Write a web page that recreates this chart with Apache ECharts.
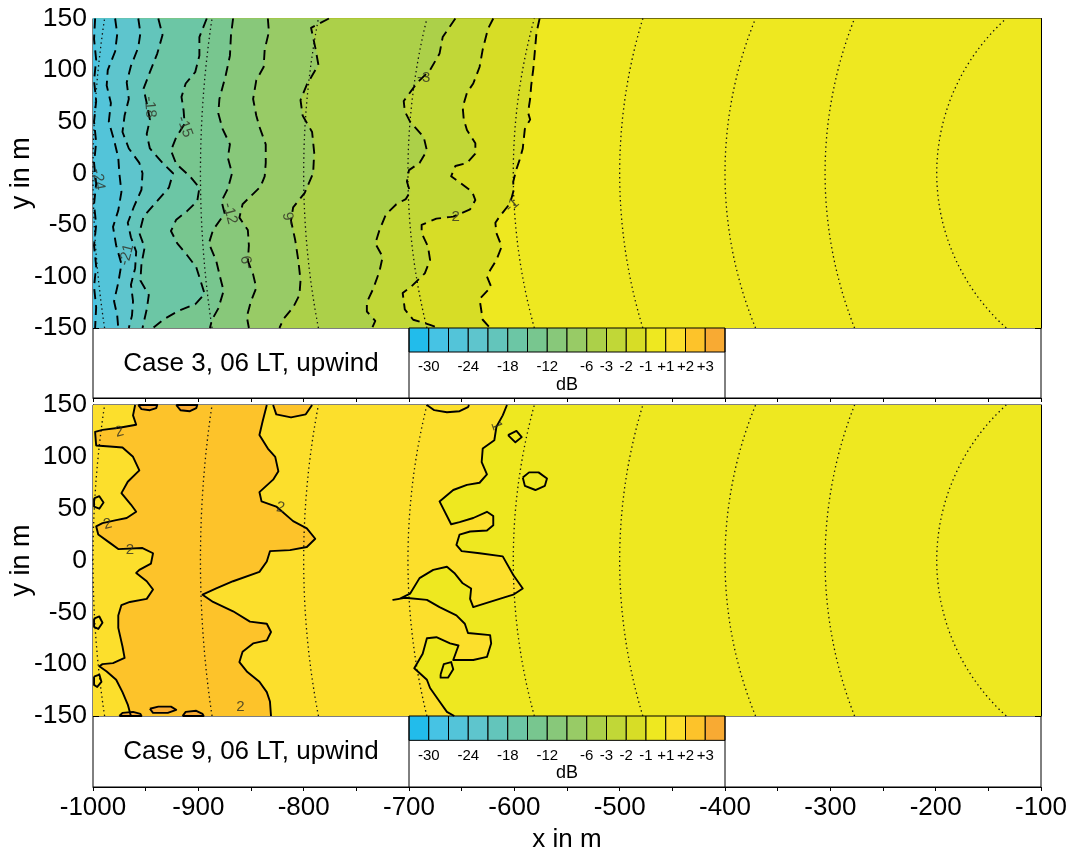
<!DOCTYPE html>
<html>
<head>
<meta charset="utf-8">
<script src="https://cdn.jsdelivr.net/npm/echarts@6/dist/echarts.min.js"></script>
<style>
  html, body { margin: 0; padding: 0; background: #fff; }
  #chart { width: 1068px; height: 854px; }
</style>
</head>
<body>
<div id="chart"></div>
<script>
// ---------- axes ----------
const X_MIN = -1000, X_MAX = -100, Y_MIN = -150, Y_MAX = 150;

// ---------- colour scale (dB) ----------
const bandColors = ['#22bceb', '#46c3e4', '#53c4d9', '#5ec5cd', '#63c5bb', '#6cc6a5', '#78c68f',
                    '#88c87a', '#98cb66', '#acd049', '#c1d737', '#d7dd26', '#eee820', '#fcdf2c',
                    '#fdc32a', '#f8aa33'];
const levelLabels = ['-30', '-24', '-18', '-12', '-6', '-3', '-2', '-1', '+1', '+2', '+3'];
const levelBoundary = [1, 3, 5, 7, 9, 10, 11, 12, 13, 14, 15];

// ---------- Case 3 contours (x, y in m), top to bottom ----------
const case3_m27 = [[-998,150],[-999,130],[-997,110],[-999,90],[-997,70],[-999,50],[-997,30],[-999,10],[-997,-10],[-999,-30],[-997,-50],[-999,-70],[-997,-90],[-999,-110],[-997,-130],[-998,-150]];
const case3_m24 = [[-979,150],[-977,135],[-979,118],[-986,100],[-987,85],[-983,68],[-985,50],[-980,32],[-976,15],[-975,0],[-973,-18],[-976,-36],[-981,-52],[-978,-70],[-973,-88],[-976,-106],[-980,-124],[-977,-138],[-976,-150]];
const case3_m21 = [[-957,150],[-955,136],[-957,122],[-964,104],[-968,88],[-966,72],[-970,56],[-972,40],[-966,24],[-956,10],[-953,0],[-954,-16],[-961,-32],[-967,-48],[-964,-62],[-959,-76],[-960,-92],[-964,-108],[-962,-124],[-963,-138],[-966,-150]];
const case3_m18 = [[-938,150],[-934,134],[-939,116],[-946,98],[-952,82],[-949,68],[-946,52],[-949,38],[-946,24],[-934,10],[-924,0],[-928,-14],[-940,-28],[-952,-42],[-956,-58],[-951,-72],[-954,-88],[-955,-104],[-947,-118],[-949,-132],[-953,-150]];
const case3_m15 = [[-892,150],[-899,132],[-899,114],[-903,98],[-912,87],[-916,74],[-914,61],[-913,48],[-921,35],[-926,22],[-921,9],[-908,-3],[-899,-14],[-901,-27],[-911,-37],[-921,-45],[-926,-56],[-920,-68],[-911,-79],[-902,-91],[-898,-104],[-894,-117],[-903,-127],[-918,-133],[-932,-141],[-943,-150]];
const case3_m12 = [[-867,150],[-869,134],[-870,114],[-874,95],[-880,72],[-881,58],[-877,43],[-870,28],[-872,15],[-868,0],[-872,-15],[-878,-27],[-875,-39],[-886,-55],[-890,-68],[-883,-85],[-879,-102],[-876,-114],[-881,-131],[-887,-142],[-889,-150]];
const case3_m9  = [[-834,150],[-833,137],[-837,120],[-838,103],[-845,90],[-848,72],[-845,56],[-842,45],[-836,28],[-836,10],[-837,-3],[-841,-13],[-850,-22],[-858,-30],[-861,-43],[-853,-55],[-852,-70],[-853,-85],[-848,-98],[-845,-111],[-850,-124],[-854,-139],[-852,-150]];
const case3_m6  = [[-776,150],[-793,141],[-789,122],[-786,105],[-797,86],[-803,71],[-801,56],[-792,40],[-790,20],[-791,0],[-799,-19],[-810,-33],[-812,-46],[-808,-65],[-805,-85],[-803,-104],[-804,-118],[-810,-130],[-819,-141],[-823,-150]];
const case3_m3  = [[-656,150],[-668,132],[-671,116],[-680,100],[-692,88],[-705,70],[-704,60],[-699,50],[-686,35],[-683,22],[-690,10],[-700,3],[-702,-8],[-699,-18],[-703,-25],[-712,-30],[-722,-40],[-728,-55],[-732,-68],[-725,-81],[-728,-95],[-734,-112],[-740,-125],[-740,-134],[-732,-143],[-735,-150]];
const case3_m2  = [[-620,150],[-625,140],[-630,120],[-633,103],[-639,87],[-645,78],[-649,64],[-648,52],[-645,42],[-637,29],[-637,19],[-645,10],[-656,7],[-660,-3],[-653,-8],[-640,-18],[-637,-26],[-642,-35],[-658,-42],[-674,-44],[-688,-50],[-688,-58],[-682,-71],[-680,-84],[-685,-97],[-698,-110],[-706,-116],[-704,-132],[-696,-142],[-680,-147],[-672,-150]];
const case3_m1  = [[-576,150],[-579,136],[-582,101],[-584,85],[-585,72],[-587,59],[-585,52],[-590,43],[-592,24],[-595,13],[-598,4],[-601,-8],[-601,-18],[-604,-29],[-614,-42],[-618,-48],[-617,-58],[-612,-71],[-617,-84],[-623,-94],[-626,-100],[-622,-110],[-633,-122],[-630,-142],[-623,-150]];
// contour label: text, x, y, rotation (deg)
const case3_labels = [['-24',-995,-6,-80],['-21',-968,-79,75],['-18',-946,64,-85],['-15',-913,45,-70],
                      ['-12',-870,-39,-75],['-9',-853,-86,100],['-6',-813,-44,100],['-3',-686,92,0],
                      ['-2',-658,-42,0],['-1',-602,-31,40]];

// ---------- Case 9 contours ----------
const case9_p1 = [[-607,150],[-611,140],[-617,129],[-619,116],[-630,108],[-631,95],[-626,83],[-633,75],[-645,73],[-658,68],[-671,57],[-660,35],[-652,37],[-639,41],[-626,47],[-620,43],[-620,34],[-626,29],[-642,28],[-652,25],[-655,15],[-650,9],[-633,7],[-611,4],[-601,-14],[-592,-27],[-601,-33],[-614,-37],[-633,-43],[-639,-45],[-642,-37],[-641,-27],[-649,-22],[-657,-12],[-664,-6],[-677,-9],[-690,-17],[-699,-32],[-709,-37],[-715,-38],[-704,-36],[-683,-38],[-671,-45],[-655,-53],[-647,-61],[-644,-70],[-623,-72],[-622,-80],[-626,-93],[-639,-96],[-658,-96],[-653,-82],[-661,-80],[-674,-74],[-683,-75],[-687,-90],[-695,-104],[-683,-115],[-680,-123],[-671,-136],[-664,-146],[-657,-150]];
const case9_p2r = [[-835,150],[-839,134],[-842,121],[-834,108],[-827,100],[-824,86],[-829,78],[-842,66],[-840,57],[-826,52],[-810,38],[-797,31],[-789,21],[-797,13],[-813,10],[-832,9],[-835,-1],[-842,-11],[-867,-20],[-883,-27],[-896,-33],[-886,-40],[-867,-49],[-851,-59],[-835,-61],[-831,-69],[-835,-77],[-848,-80],[-858,-88],[-861,-98],[-854,-107],[-842,-117],[-835,-127],[-832,-136],[-831,-150]];
const case9_p2l = [[-960,150],[-962,140],[-959,131],[-975,128],[-991,126],[-998,124],[-997,111],[-984,110],[-972,109],[-962,100],[-956,87],[-967,76],[-973,65],[-964,54],[-959,47],[-968,41],[-978,39],[-991,36],[-997,33],[-995,25],[-984,17],[-976,11],[-953,12],[-943,7],[-945,-3],[-956,-9],[-959,-12],[-949,-20],[-943,-28],[-949,-37],[-965,-40],[-973,-43],[-976,-53],[-976,-65],[-972,-83],[-970,-94],[-981,-99],[-991,-100],[-994,-102],[-987,-107],[-978,-115],[-972,-127],[-967,-139],[-964,-150]];
// closed patches above +3 dB and above +2 dB
const case9_p3a = [[-946,-143],[-938,-141],[-926,-141],[-921,-144],[-929,-147],[-943,-147]];
const case9_p3b = [[-975,-150],[-972,-147],[-962,-146],[-955,-148],[-954,-150]];
const case9_p3c = [[-915,-150],[-912,-146],[-902,-145],[-896,-148],[-895,-150]];
const case9_p3d = [[-957,150],[-954,146],[-946,145],[-940,147],[-939,150]];
const case9_p3e = [[-921,150],[-917,145],[-908,144],[-902,147],[-901,150]];
const case9_p2a = [[-829,150],[-826,141],[-812,138],[-798,141],[-792,150]];
// small closed +1/+2 loops
const case9_loop1 = [[-606,121],[-598,125],[-593,119],[-599,114],[-606,121]];
const case9_loop2 = [[-592,80],[-586,85],[-577,85],[-569,79],[-571,72],[-580,68],[-590,72],[-592,80]];
const case9_loop3 = [[-670,-110],[-667,-100],[-660,-98],[-658,-105],[-663,-113],[-670,-113],[-670,-110]];
const case9_loop4 = [[-683,150],[-676,145],[-664,143],[-652,144],[-644,148],[-643,150]];
const case9_loop5 = [[-999,60],[-994,62],[-990,56],[-994,50],[-999,52]];
const case9_loop6 = [[-999,-56],[-994,-54],[-991,-60],[-995,-66],[-999,-64]];
const case9_loop7 = [[-999,-112],[-994,-110],[-992,-117],[-996,-122],[-999,-120]];
const case9_labels = [['2',-975,124,15],['2',-986,35,15],['2',-965,10,0],['2',-822,51,-10],
                      ['2',-860,-141,0],['1',-617,130,-70]];

// ---------- reference arcs: x at y = 0 and x at |y| = 150 ----------
const arcVertexX = [-1000, -898, -800, -701, -601, -500, -400, -305, -199];
const arcEdgeX   = [-989, -887, -786, -683, -581, -478, -371, -277, -133];

// ---------- building blocks ----------
function fillLayers(baseBand, lines) {
  // painted right to left: each layer covers everything left of its contour
  const layers = [{ pts: [[X_MIN, Y_MAX], [X_MAX, Y_MAX], [X_MAX, Y_MIN], [X_MIN, Y_MIN]], color: bandColors[baseBand] }];
  lines.forEach(l => {
    const pts = l.closed ? l.pts : l.pts.concat([[X_MIN, Y_MIN], [X_MIN, Y_MAX]]);
    layers.push({ pts: pts, color: bandColors[l.band] });
  });
  return layers;
}

function arcPoints(v, e) {
  const d = e - v;
  const r = (d * d + 150 * 150) / (2 * d);
  const c = v + r;
  const pts = [];
  for (let y = Y_MIN; y <= Y_MAX; y += 5) pts.push([c - Math.sqrt(r * r - y * y), y]);
  return pts;
}

const FONT = '"Liberation Sans", Arial, Helvetica, sans-serif';

const case3Layers = fillLayers(12, [
  { pts: case3_m1, band: 11 }, { pts: case3_m2, band: 10 }, { pts: case3_m3, band: 9 },
  { pts: case3_m6, band: 8 }, { pts: case3_m9, band: 7 }, { pts: case3_m12, band: 6 },
  { pts: case3_m15, band: 5 }, { pts: case3_m18, band: 4 }, { pts: case3_m21, band: 3 },
  { pts: case3_m24, band: 2 }, { pts: case3_m27, band: 1 }
]);
const case9Layers = fillLayers(12, [
  { pts: case9_p1, band: 13 }, { pts: case9_p2r, band: 14 }, { pts: case9_p2l, band: 13 },
  { pts: case9_p2a, band: 14, closed: true },
  { pts: case9_p3a, band: 15, closed: true }, { pts: case9_p3b, band: 15, closed: true },
  { pts: case9_p3c, band: 15, closed: true }, { pts: case9_p3d, band: 15, closed: true },
  { pts: case9_p3e, band: 15, closed: true }
]);

const case3Lines = [case3_m27, case3_m24, case3_m21, case3_m18, case3_m15, case3_m12, case3_m9, case3_m6, case3_m3, case3_m2, case3_m1];
const case9Lines = [case9_p1, case9_p2r, case9_p2l, case9_p2a, case9_p3a, case9_p3b, case9_p3c, case9_p3d, case9_p3e,
                    case9_loop1, case9_loop2, case9_loop3, case9_loop4, case9_loop5, case9_loop6, case9_loop7];

function fillSeries(layers, axis) {
  return {
    type: 'custom', xAxisIndex: axis.x, yAxisIndex: axis.y, silent: true, z: 1, clip: true,
    data: layers.map(l => l.pts[0]),
    encode: { x: 0, y: 1 },
    renderItem: (params, api) => {
      const l = layers[params.dataIndex];
      return { type: 'polygon', shape: { points: l.pts.map(p => api.coord(p)) },
               style: { fill: l.color, stroke: l.color, lineWidth: 0.6 } };
    }
  };
}

function lineSeries(pts, axis, dashed, closed) {
  const data = closed ? pts.concat([pts[0]]) : pts;
  return {
    type: 'line', xAxisIndex: axis.x, yAxisIndex: axis.y, data: data, symbol: 'none', silent: true, z: 3,
    lineStyle: { color: '#000', width: 1.9, type: dashed ? [10, 6] : 'solid', cap: 'butt', join: 'round' }
  };
}

function arcSeries(axis) {
  return arcVertexX.map((v, i) => ({
    type: 'line', xAxisIndex: axis.x, yAxisIndex: axis.y, data: arcPoints(v, arcEdgeX[i]), symbol: 'none',
    silent: true, z: 2, lineStyle: { color: '#111', width: 1.3, type: [1.4, 3.2] }
  }));
}

function labelSeries(labels, axis) {
  return {
    type: 'scatter', xAxisIndex: axis.x, yAxisIndex: axis.y, silent: true, z: 4, symbolSize: 1,
    itemStyle: { color: 'rgba(0,0,0,0)' },
    data: labels.map(l => ({ value: [l[1], l[2]], label: { formatter: l[0], rotate: l[3] } })),
    label: { show: true, position: 'inside', color: '#2e2e22', fontSize: 15, fontFamily: FONT }
  };
}

// legend box: caption and colour bar between x = -700 and x = -400
const CB_X0 = -700, CB_X1 = -400, CB_BOTTOM = 0.657;
function legendSeries(caption, axis) {
  return {
    type: 'custom', xAxisIndex: axis.x, yAxisIndex: axis.y, silent: true, z: 2,
    data: [[CB_X0, 0.5]], encode: { x: 0, y: 1 },
    renderItem: (params, api) => {
      const kids = [];
      const n = bandColors.length, w = (CB_X1 - CB_X0) / n;
      bandColors.forEach((c, i) => {
        const a = api.coord([CB_X0 + i * w, 1]), b = api.coord([CB_X0 + (i + 1) * w, CB_BOTTOM]);
        kids.push({ type: 'rect', shape: { x: a[0], y: a[1], width: b[0] - a[0], height: b[1] - a[1] },
                    style: { fill: c, stroke: '#000', lineWidth: 1 } });
      });
      [CB_X0, CB_X1].forEach(x => {
        const a = api.coord([x, 1]), b = api.coord([x, 0]);
        kids.push({ type: 'line', shape: { x1: a[0], y1: a[1], x2: b[0], y2: b[1] }, style: { stroke: '#000', lineWidth: 1 } });
      });
      levelLabels.forEach((t, k) => {
        const p = api.coord([CB_X0 + levelBoundary[k] * w, 0.44]);
        kids.push({ type: 'text', x: p[0], y: p[1],
                    style: { text: t, fill: '#000', font: '15px ' + FONT, align: 'center', verticalAlign: 'middle' } });
      });
      const dB = api.coord([(CB_X0 + CB_X1) / 2, 0.19]);
      kids.push({ type: 'text', x: dB[0], y: dB[1],
                  style: { text: 'dB', fill: '#000', font: '18px ' + FONT, align: 'center', verticalAlign: 'middle' } });
      const cp = api.coord([-850, 0.49]);
      kids.push({ type: 'text', x: cp[0], y: cp[1],
                  style: { text: caption, fill: '#000', font: '26px ' + FONT, align: 'center', verticalAlign: 'middle' } });
      return { type: 'group', children: kids };
    }
  };
}

// ---------- axes ----------
const tickStyle = { lineStyle: { color: '#000', width: 1 } };
function plotXAxis(grid, pos) {
  return { type: 'value', gridIndex: grid, position: pos, min: X_MIN, max: X_MAX, interval: 100,
           axisLine: { show: true, lineStyle: { color: '#000', width: 1 } },
           axisTick: { show: true, inside: true, length: 5, ...tickStyle },
           minorTick: { show: true, splitNumber: 2, length: 3, ...tickStyle },
           axisLabel: { show: false }, splitLine: { show: false } };
}
function boxXAxis(grid, labels) {
  return { type: 'value', gridIndex: grid, position: 'bottom', min: X_MIN, max: X_MAX, interval: 100,
           axisLine: { show: true, lineStyle: { color: '#000', width: 1 } },
           axisTick: { show: true, inside: false, length: 4, ...tickStyle },
           minorTick: { show: true, splitNumber: 2, length: 4, ...tickStyle },
           axisLabel: { show: labels, color: '#000', fontSize: 26, fontFamily: FONT, margin: 8,
                        formatter: v => String(v) },
           splitLine: { show: false },
           name: labels ? 'x in m' : '', nameLocation: 'middle', nameGap: 40, nameMoveOverlap: false,
           nameTextStyle: { color: '#000', fontSize: 26, fontFamily: FONT } };
}
function plotYAxis(grid, pos, labels) {
  return { type: 'value', gridIndex: grid, position: pos, min: Y_MIN, max: Y_MAX, interval: 50,
           axisLine: { show: true, lineStyle: { color: '#000', width: 1 } },
           axisTick: { show: true, inside: true, length: 6, ...tickStyle },
           minorTick: { show: true, splitNumber: 5, length: 3, ...tickStyle },
           axisLabel: { show: labels, color: '#000', fontSize: 26.5, fontFamily: FONT, margin: 6,
                        formatter: v => String(v) },
           splitLine: { show: false },
           name: labels ? 'y in m' : '', nameLocation: 'middle', nameGap: 58, nameRotate: 90, nameMoveOverlap: false,
           nameTextStyle: { color: '#000', fontSize: 27, fontFamily: FONT } };
}
function boxYAxis(grid) {
  return { type: 'value', gridIndex: grid, min: 0, max: 1, show: false };
}

const TOP = { x: 0, y: 0 }, TOP_BOX = { x: 2, y: 2 }, BOT = { x: 3, y: 3 }, BOT_BOX = { x: 5, y: 5 };

const series = [];
series.push(fillSeries(case3Layers, TOP));
series.push(...arcSeries(TOP));
case3Lines.forEach(l => series.push(lineSeries(l, TOP, true, false)));
series.push(labelSeries(case3_labels, TOP));
series.push(legendSeries('Case 3, 06 LT, upwind', TOP_BOX));

series.push(fillSeries(case9Layers, BOT));
series.push(...arcSeries(BOT));
case9Lines.forEach((l, i) => series.push(lineSeries(l, BOT, false, i >= 4 && i !== 12)));
series.push(labelSeries(case9_labels, BOT));
series.push(legendSeries('Case 9, 06 LT, upwind', BOT_BOX));

const gridBase = { left: 93, right: 27, containLabel: false, outerBoundsMode: 'none', show: true, borderColor: '#000', borderWidth: 1 };
const option = {
  animation: false,
  backgroundColor: '#fff',
  grid: [
    { ...gridBase, top: 18.5, height: 309.5 },
    { ...gridBase, top: 328, height: 70, backgroundColor: '#fff' },
    { ...gridBase, top: 405, height: 311 },
    { ...gridBase, top: 716, height: 71, backgroundColor: '#fff' }
  ],
  // x axes 0/1 top panel, 2 top box, 3/4 bottom panel, 5 bottom box
  xAxis: [plotXAxis(0, 'bottom'), plotXAxis(0, 'top'), boxXAxis(1, false),
          plotXAxis(2, 'bottom'), plotXAxis(2, 'top'), boxXAxis(3, true)],
  yAxis: [plotYAxis(0, 'left', true), plotYAxis(0, 'right', false), boxYAxis(1),
          plotYAxis(2, 'left', true), plotYAxis(2, 'right', false), boxYAxis(3)],
  series: series
};

const chart = echarts.init(document.getElementById('chart'));
chart.setOption(option);
</script>
</body>
</html>
